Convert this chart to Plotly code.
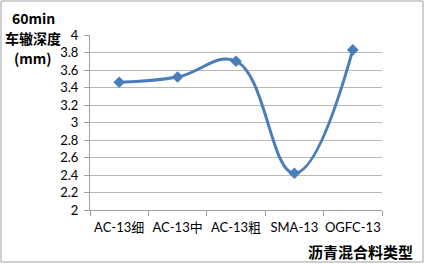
import plotly.graph_objects as go

categories = ["AC-13细", "AC-13中", "AC-13粗", "SMA-13", "OGFC-13"]
depth = [3.46, 3.52, 3.70, 2.42, 3.83]
y_ticks = [2, 2.2, 2.4, 2.6, 2.8, 3, 3.2, 3.4, 3.6, 3.8, 4]
y_tick_text = ["2", "2.2", "2.4", "2.6", "2.8", "3", "3.2", "3.4", "3.6", "3.8", "4"]

W, H = 425, 264
L, R, T, B = 90, 43, 35, 54
pw, ph = W - L - R, H - T - B

fig = go.Figure()
fig.add_trace(go.Scatter(
    x=categories, y=depth, mode="lines+markers",
    line=dict(color="#4A7EBB", width=3, shape="spline", smoothing=1.2),
    marker=dict(symbol="diamond", size=9, color="#4A7EBB"),
    showlegend=False, cliponaxis=False,
))

font_main = "Lato, 'Noto Sans CJK SC', sans-serif"
fig.update_layout(
    width=W, height=H,
    margin=dict(l=L, r=R, t=T, b=B, autoexpand=False),
    paper_bgcolor="white", plot_bgcolor="white",
    font=dict(family=font_main, size=13, color="#000000"),
    xaxis=dict(
        type="category", showgrid=False, showline=True, linecolor="#A0A0A0",
        ticks="outside", tickson="boundaries", ticklen=5, tickcolor="#A0A0A0",
        tickfont=dict(size=13, family=font_main, color="#000000"),
        tickangle=0, automargin=False, ticklabelstandoff=5,
        range=[-0.5, 4.5],
    ),
    yaxis=dict(
        range=[2, 4], tickvals=y_ticks, ticktext=y_tick_text,
        showgrid=True, gridcolor="#B8B8B8", gridwidth=1,
        showline=True, linecolor="#A0A0A0",
        ticks="outside", ticklen=5, tickcolor="#A0A0A0",
        tickfont=dict(size=13, family=font_main, color="#000000"),
        zeroline=False, automargin=False, ticklabelstandoff=3,
    ),
)

def px_x(p):
    return (p - L) / pw

def px_y(p):
    return (H - B - p) / ph

title_font = dict(size=14, family="'Noto Sans CJK SC', Lato, sans-serif", color="#000000")
for txt, yy in [("<b>60min</b>", 18), ("<b>车辙深度</b>", 38), ("<b>(mm)</b>", 58)]:
    fig.add_annotation(
        x=px_x(33), y=px_y(yy), xref="paper", yref="paper",
        text=txt, showarrow=False, xanchor="center", yanchor="middle",
        font=title_font,
    )
fig.add_annotation(
    x=px_x(415), y=px_y(251), xref="paper", yref="paper",
    text="<b>沥青混合料类型</b>",
    showarrow=False, xanchor="right", yanchor="middle",
    font=dict(size=15, family="'Noto Sans CJK SC', sans-serif", color="#000000"),
)
fig.add_shape(
    type="rect", xref="paper", yref="paper",
    x0=px_x(1), x1=px_x(423), y0=px_y(262), y1=px_y(1),
    line=dict(color="#A0A0A0", width=1), fillcolor="rgba(0,0,0,0)", layer="below",
)

fig.write_html(
    "out.html",
    config={"displayModeBar": False},
    post_script="document.body.style.margin='0';document.body.style.overflow='hidden';",
)
